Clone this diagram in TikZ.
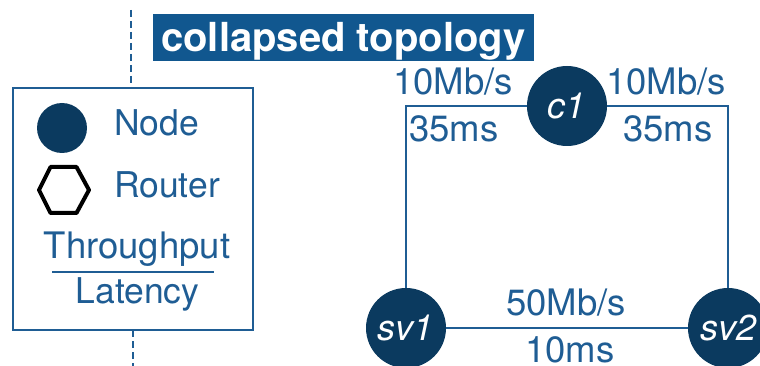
\documentclass[tikz,border=0pt]{standalone}
\usepackage{fontspec}
\setmainfont{TeX Gyre Heros}
\definecolor{navy}{HTML}{0B3A5F}
\definecolor{linkblue}{HTML}{1F5D94}
\definecolor{banner}{HTML}{11578F}
\tikzset{
  host/.style={circle, fill=navy, minimum size=80pt, inner sep=0pt,
               text=white, font=\fontsize{36}{36}\selectfont\itshape},
  lbl/.style={inner sep=0pt, text=linkblue, font=\fontsize{36.5}{36}\selectfont},
  legendtext/.style={inner sep=0pt, text=linkblue, font=\fontsize{35.5}{36}\selectfont},
  link/.style={draw=linkblue, line width=2pt},
}
\begin{document}
\begin{tikzpicture}[x=1pt,y=-1pt]
\useasboundingbox (0,0) rectangle (760,366);
\clip (0,0) rectangle (760,366);

% separator
\draw[linkblue, line width=2pt, dash pattern=on 7pt off 4pt] (131,10) -- (131,88);
\draw[linkblue, line width=2pt, dash pattern=on 7pt off 4pt] (133,330) -- (133,366);

% title banner
\fill[banner] (153,14) rectangle (534,61);
\node[anchor=base west, inner sep=0pt, text=white,
      font=\fontsize{40}{40}\selectfont\bfseries] (title) at (161,52) {collapsed topology};

% legend
\draw[linkblue, line width=2pt] (13,88) rectangle (253,330);
\fill[navy] (62,128) circle (25);
\node[legendtext, anchor=base west] (lnode) at (114,136) {Node};
\draw[black, line width=4pt, line join=round]
  (39,190) -- (50.5,167) -- (76.5,167) -- (89,190) -- (76.5,213) -- (50.5,213) -- cycle;
\node[legendtext, anchor=base west] (lrouter) at (114,197) {Router};
\node[legendtext, anchor=base, font=\fontsize{36.5}{36}\selectfont] (lthr) at (137,258) {Throughput};
\draw[linkblue, line width=2pt] (52,272) -- (214,272);
\node[legendtext, anchor=base] (llat) at (137.5,303) {Latency};

% hosts
\node[host] (c1) at (567,106) {c1};
\node[host] (sv1) at (406,328) {sv1};
\node[host] (sv2) at (728,328) {sv2};

% links
\draw[link] (c1) -| (sv1);
\draw[link] (c1) -| (sv2);
\draw[link] (sv1) -- (sv2);

% link labels
\node[lbl, anchor=base west] (t1) at (393,95) {10Mb/s};
\node[lbl, anchor=base west] (d1) at (409,142) {35ms};
\node[lbl, anchor=base west] (t2) at (606,95) {10Mb/s};
\node[lbl, anchor=base west] (d2) at (623,142) {35ms};
\node[lbl, anchor=base west] (t3) at (506,315) {50Mb/s};
\node[lbl, anchor=base west] (d3) at (525,362) {10ms};
\end{tikzpicture}
\end{document}
